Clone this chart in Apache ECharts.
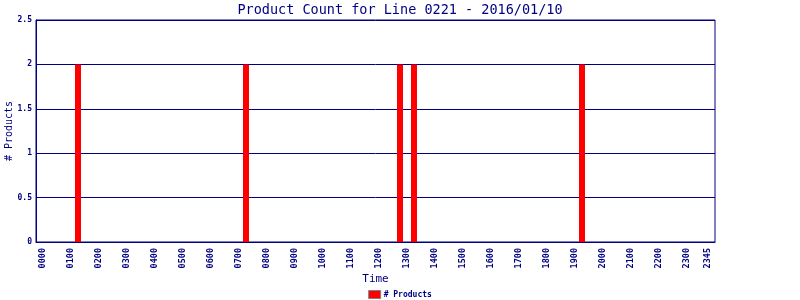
<!DOCTYPE html>
<html>
<head>
<meta charset="utf-8">
<script src="https://cdn.jsdelivr.net/npm/echarts@6/dist/echarts.min.js"></script>
<style>html,body{margin:0;padding:0;background:#fff;}#c{width:800px;height:300px;}</style>
</head>
<body>
<div id="c"></div>
<script>
// 15-minute time slots for the day
var hours = ["00","01","02","03","04","05","06","07","08","09","10","11","12","13","14","15","16","17","18","19","20","21","22","23"];
var quarters = ["00","15","30","45"];
var timeSlots = [];
hours.forEach(function(h){ quarters.forEach(function(q){ timeSlots.push(h + q); }); });

// Product events
var eventTimes = ["0115", "0715", "1245", "1315", "1915"];
var eventCounts = [2, 2, 2, 2, 2];

// y-axis ticks
var yMin = 0, yMax = 2.5, yStep = 0.5;

var navy = "#000080";
var mono = "DejaVu Sans Mono";

// padded categories (one empty slot each side)
var categories = [""].concat(timeSlots).concat([""]);
var seriesData = categories.map(function(c){
  var i = eventTimes.indexOf(c);
  return i >= 0 ? eventCounts[i] : null;
});

var chart = echarts.init(document.getElementById('c'), null, {renderer: 'canvas'});
chart.setOption({
  backgroundColor: '#fff',
  animation: false,
  title: {
    text: 'Product Count for Line 0221 - 2016/01/10',
    left: 'center', top: -2,
    textStyle: {color: navy, fontFamily: mono, fontSize: 13.5, fontWeight: 'normal'}
  },
  legend: {
    bottom: -4, left: 'center',
    icon: 'rect', itemWidth: 12, itemHeight: 8, itemGap: 4,
    itemStyle: {borderColor: '#808080', borderWidth: 1},
    textStyle: {color: navy, fontFamily: mono, fontSize: 8, fontWeight: 'bold', padding: [0,0,0,-2]},
    data: ['# Products']
  },
  grid: {left: 36, right: 85, top: 20, bottom: 58, show: true, borderColor: navy, borderWidth: 1, containLabel: false, outerBoundsMode: 'none'},
  xAxis: {
    type: 'category',
    data: categories,
    boundaryGap: false,
    name: 'Time', nameLocation: 'middle', nameGap: 32, nameMoveOverlap: false,
    nameTextStyle: {color: navy, fontFamily: mono, fontSize: 11},
    axisLine: {lineStyle: {color: navy, width: 1}},
    axisTick: {show: false},
    splitLine: {show: false},
    axisLabel: {
      rotate: 90, color: navy, fontFamily: mono, fontSize: 8.5, fontWeight: 'bold', margin: 6,
      interval: function(idx, val){ return !!val && (val.slice(2) === '00' || val === '2345'); }
    }
  },
  yAxis: {
    type: 'value', min: yMin, max: yMax, interval: yStep,
    name: '# Products', nameLocation: 'middle', nameGap: 22, nameMoveOverlap: false,
    nameTextStyle: {color: navy, fontFamily: mono, fontSize: 10},
    axisLine: {show: true, lineStyle: {color: navy}},
    axisTick: {show: false},
    splitLine: {show: true, lineStyle: {color: navy, width: 1}},
    axisLabel: {color: navy, fontFamily: mono, fontSize: 8, fontWeight: 'bold', margin: 4}
  },
  series: [{
    name: '# Products',
    type: 'bar',
    data: seriesData,
    barWidth: 6,
    itemStyle: {color: '#ff0000'}
  }]
});
</script>
</body>
</html>
